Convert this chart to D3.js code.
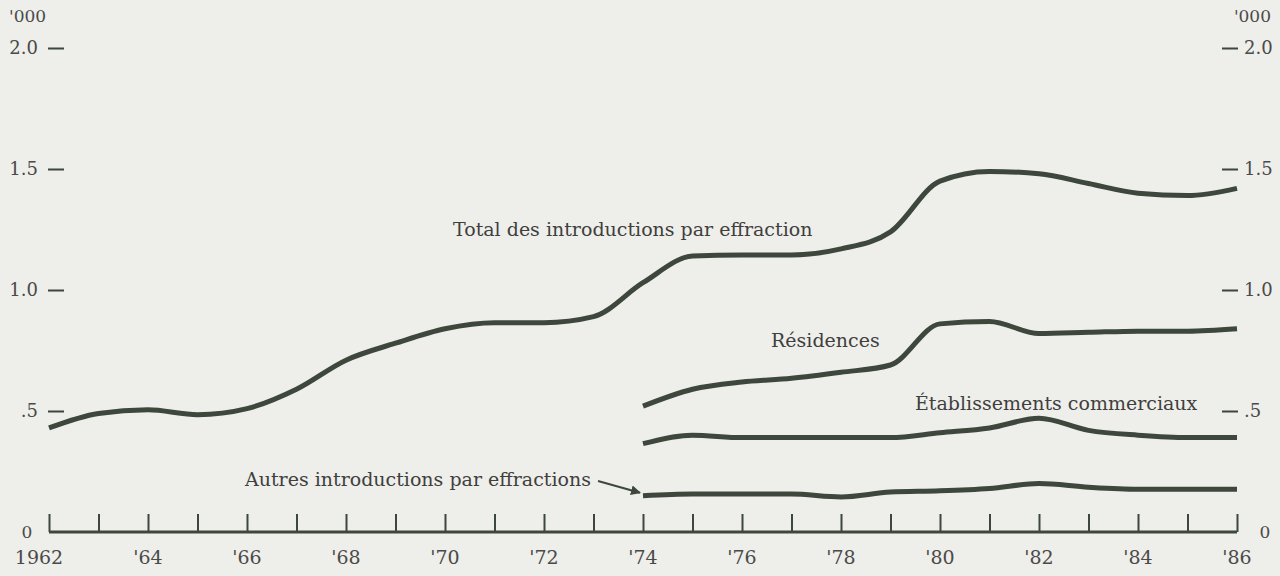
<!DOCTYPE html>
<html>
<head>
<meta charset="utf-8">
<script src="https://cdn.jsdelivr.net/npm/d3@7"></script>
<style>
	body { margin: 0; background: #eeeeeb; }
	#chart { width: 1280px; height: 576px; }
</style>
</head>
<body>
<div id="chart"></div>
<script>
// data ('000)
var years = d3.range(1962, 1987);
var total = [0.43, 0.49, 0.505, 0.485, 0.51, 0.59, 0.71, 0.78, 0.84, 0.865, 0.865, 0.89,
	1.03, 1.14, 1.145, 1.145, 1.17, 1.24, 1.45, 1.49, 1.48, 1.44, 1.40, 1.39, 1.42];
var subYears = d3.range(1974, 1987);
var residences = [0.52, 0.59, 0.62, 0.635, 0.66, 0.69, 0.86, 0.87, 0.82, 0.825, 0.83, 0.83, 0.84];
var commerciaux = [0.365, 0.40, 0.39, 0.39, 0.39, 0.39, 0.41, 0.43, 0.47, 0.42, 0.40, 0.39, 0.39];
var autres = [0.15, 0.157, 0.157, 0.157, 0.145, 0.165, 0.17, 0.18, 0.20, 0.185, 0.177, 0.177, 0.177];
var yTicks = [0.5, 1.0, 1.5, 2.0];
var xLabels = ["1962", "'64", "'66", "'68", "'70", "'72", "'74", "'76", "'78", "'80", "'82", "'84", "'86"];

var WIDTH = 1280,
	HEIGHT = 576,
	MARGINS = {top: 48, bottom: 44, left: 49, right: 43};

var INK = "#3d473c",
	TEXT = "#4a4a48",
	FONT = "DejaVu Serif, Liberation Serif, serif";

var xScale = d3.scaleLinear().domain([1962, 1986]).range([MARGINS.left, WIDTH - MARGINS.right]);
var yScale = d3.scaleLinear().domain([0, 2]).range([HEIGHT - MARGINS.bottom, MARGINS.top]);

var lineGen = d3.line()
	.x(function(d) {return xScale(d[0]);})
	.y(function(d) {return yScale(d[1]);})
	.curve(d3.curveMonotoneX);

var svg = d3.select("#chart").append("svg")
	.attr("width", WIDTH)
	.attr("height", HEIGHT);

// bottom axis with ticks pointing up
var x0 = yScale(0);
svg.append("g")
	.attr("transform", "translate(0," + x0 + ")")
	.call(d3.axisTop(xScale).tickValues(years).tickSize(18).tickFormat(""))
	.call(function(g) {
		g.select(".domain").attr("stroke", INK).attr("stroke-width", 3)
			.attr("d", "M" + xScale(1962) + ",0H" + xScale(1986));
		g.selectAll(".tick line").attr("stroke", INK).attr("stroke-width", 2);
	});

// year labels, every second year
svg.append("g").selectAll("text")
	.data(xLabels)
	.enter().append("text")
	.attr("x", function(d, i) {return xScale(1962 + i * 2) - (i == 0 ? 10 : 0);})
	.attr("y", 564)
	.attr("text-anchor", "middle")
	.attr("fill", TEXT)
	.style("font", "19px " + FONT)
	.text(function(d) {return d;});

// left and right value scales
var left = svg.append("g").attr("transform", "translate(" + (MARGINS.left - 1) + ",0)")
	.call(d3.axisLeft(yScale).tickValues(yTicks).tickSize(-16).tickPadding(10)
		.tickFormat(function(d) {return d == 0.5 ? ".5" : d3.format(".1f")(d);}));
var right = svg.append("g").attr("transform", "translate(" + (WIDTH - MARGINS.right + 1) + ",0)")
	.call(d3.axisRight(yScale).tickValues(yTicks).tickSize(-16).tickPadding(6)
		.tickFormat(function(d) {return d == 0.5 ? ".5" : d3.format(".1f")(d);}));
[left, right].forEach(function(g) {
	g.select(".domain").remove();
	g.selectAll(".tick line").attr("stroke", INK).attr("stroke-width", 2);
	g.selectAll(".tick text").attr("fill", TEXT).style("font", "18px " + FONT);
});

// zero labels and units
svg.append("text").attr("x", 27).attr("y", yScale(0) + 6).attr("text-anchor", "middle")
	.attr("fill", TEXT).style("font", "17px " + FONT).text("0");
svg.append("text").attr("x", 1265).attr("y", yScale(0) + 6).attr("text-anchor", "middle")
	.attr("fill", TEXT).style("font", "17px " + FONT).text("0");
svg.append("text").attr("x", 9).attr("y", 22)
	.attr("fill", TEXT).style("font", "17px " + FONT).text("'000");
svg.append("text").attr("x", 1271).attr("y", 22).attr("text-anchor", "end")
	.attr("fill", TEXT).style("font", "17px " + FONT).text("'000");

// series lines
var series = [
	d3.zip(years, total),
	d3.zip(subYears, residences),
	d3.zip(subYears, commerciaux),
	d3.zip(subYears, autres)
];
svg.append("g").selectAll("path")
	.data(series)
	.enter().append("path")
	.attr("d", lineGen)
	.attr("fill", "none")
	.attr("stroke", INK)
	.attr("stroke-width", 5)
	.attr("stroke-linejoin", "round");

// line labels
var labels = [
	{text: "Total des introductions par effraction", x: 453, y: 236},
	{text: "Résidences", x: 771, y: 347},
	{text: "Établissements commerciaux", x: 915, y: 410},
	{text: "Autres introductions par effractions", x: 245, y: 486}
];
svg.append("g").selectAll("text")
	.data(labels)
	.enter().append("text")
	.attr("x", function(d) {return d.x;})
	.attr("y", function(d) {return d.y;})
	.attr("fill", "#3f3f3d")
	.style("font", "19px " + FONT)
	.text(function(d) {return d.text;});

// arrow to the autres line
svg.append("defs").append("marker")
	.attr("id", "head")
	.attr("viewBox", "0 0 10 10")
	.attr("refX", 9).attr("refY", 5)
	.attr("markerWidth", 5).attr("markerHeight", 5)
	.attr("orient", "auto")
	.append("path").attr("d", "M0,0L10,5L0,10Z").attr("fill", INK);
svg.append("line")
	.attr("x1", 598).attr("y1", 481)
	.attr("x2", xScale(1974) - 3).attr("y2", yScale(autres[0]) - 3)
	.attr("stroke", INK).attr("stroke-width", 2)
	.attr("marker-end", "url(#head)");
</script>
</body>
</html>
